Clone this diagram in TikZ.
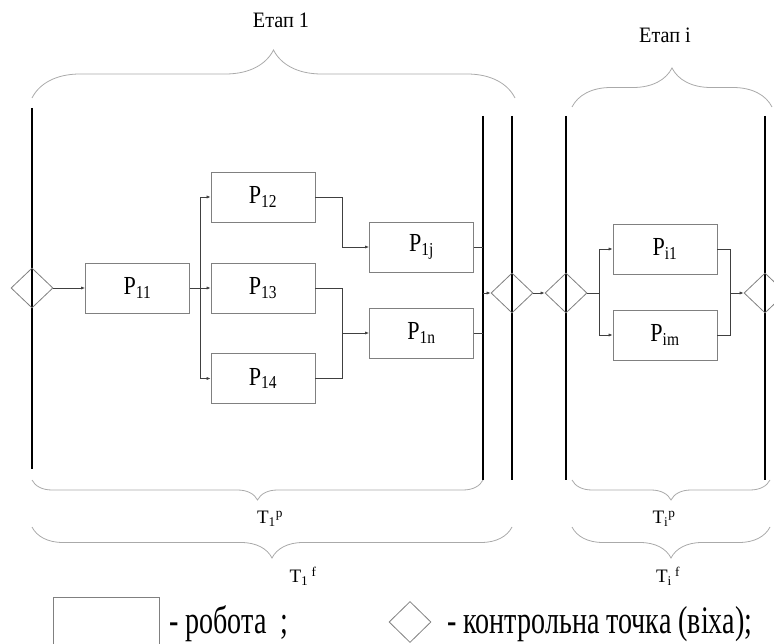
\documentclass[tikz,border=0pt]{standalone}
\usepackage{fontspec}
\setmainfont{Liberation Serif}
\newfontfamily\boxfont[FakeStretch=0.85]{Liberation Serif}
\newfontfamily\stagefont[FakeStretch=0.92]{Liberation Serif}
\newfontfamily\legendfont[FakeStretch=0.72]{Liberation Serif}
\usetikzlibrary{arrows.meta,positioning,shapes.geometric,decorations.pathreplacing}
\definecolor{boxgray}{RGB}{128,128,128}
\definecolor{linkgray}{RGB}{64,64,64}
\definecolor{bracegray}{RGB}{170,170,170}
\tikzset{
  job/.style={draw=boxgray,line width=0.8pt,minimum width=104pt,minimum height=50pt,inner sep=0pt,font=\boxfont\fontsize{26}{30}\selectfont},
  mile/.style={diamond,draw=boxgray,line width=0.8pt,minimum width=42pt,minimum height=40pt,inner sep=0pt},
  flow/.style={-{Latex[length=4pt,width=3.2pt]},draw=linkgray,line width=0.7pt},
  link/.style={draw=linkgray,line width=0.7pt},
  rail/.style={draw=black,line width=1.8pt},
  brc/.style={decorate,decoration={brace,amplitude=#1},draw=bracegray,line width=0.8pt},
  lbl/.style={inner sep=0pt,font=\fontsize{19}{23}\selectfont}
}
\begin{document}
\begin{tikzpicture}[x=1pt,y=-1pt]
\useasboundingbox (0,0) rectangle (774,644);
\clip (0,0) rectangle (774,644);
% milestone rails
\draw[rail] (32,108) -- (32,469);
\foreach \rx in {483,512,566,765}
  \draw[rail] (\rx,116) -- (\rx,480);
% stage 1
\node[mile] (d1) at (32,288) {};
\node[job] (p11) at (137.5,288) {P\textsubscript{11}};
\node[job] (p12) at (263,197) {P\textsubscript{12}};
\node[job] (p13) at (263,288) {P\textsubscript{13}};
\node[job] (p14) at (263,378.5) {P\textsubscript{14}};
\node[job] (p1j) at (421.5,247) {P\textsubscript{1j}};
\node[job] (p1n) at (421.5,333) {P\textsubscript{1n}};
\node[mile] (d2) at (512,293) {};
\coordinate (fork1) at (200,288);
\coordinate (join13) at (342,333);
\coordinate (join1) at (483,293);
\draw[flow] (d1.east) -- (p11.west);
\draw[link] (p11.east) -- (fork1);
\draw[flow] (fork1) |- (p12.west);
\draw[flow] (fork1) -- (p13.west);
\draw[flow] (fork1) |- (p14.west);
\draw[flow] (p12.east) -- ++(27,0) |- (p1j.west);
\draw[link] (p13.east) -- ++(27,0) |- (p14.east);
\draw[flow] (join13) -- (p1n.west);
\draw[link] (p1j.east) -- (p1j.east -| join1);
\draw[link] (p1n.east) -- (p1n.east -| join1);
\draw[flow] (join1) -- (d2.west);
% stage i
\node[mile] (d3) at (566,293) {};
\node[job] (pi1) at (665,249) {P\textsubscript{i1}};
\node[job] (pim) at (665,335) {P\textsubscript{im}};
\node[mile] (d4) at (765,293) {};
\coordinate (fork2) at (599,293);
\coordinate (join2) at (730,293);
\draw[flow] (d2.east) -- (d3.west);
\draw[link] (d3.east) -- (fork2);
\draw[flow] (fork2) |- (pi1.west);
\draw[flow] (fork2) |- (pim.west);
\draw[link] (pi1.east) -| (join2);
\draw[link] (pim.east) -| (join2);
\draw[flow] (join2) -- (d4.west);
% braces
\draw[brc=48pt] (32,98) -- (515,98);
\draw[brc=39pt] (572,107) -- (772,107);
\draw[brc=20pt,decoration={mirror}] (32,480) -- (483,480);
\draw[brc=31pt,decoration={mirror}] (32,527) -- (512,527);
\draw[brc=20pt,decoration={mirror}] (572,480) -- (770,480);
\draw[brc=31pt,decoration={mirror}] (572,527) -- (770,527);
\node[lbl,font=\stagefont\fontsize{22}{26}\selectfont] (st1) at (281,20) {Етап 1};
\node[lbl,font=\stagefont\fontsize{22}{26}\selectfont] (sti) at (665,35) {Етап і};
\node[lbl] (t1p) at (270,519) {T\textsubscript{1}\textsuperscript{p}};
\node[lbl] (t1f) at (303,576) {T\textsubscript{1}\,\textsuperscript{f}};
\node[lbl] (tip) at (664,519) {T\textsubscript{i}\textsuperscript{p}};
\node[lbl] (tif) at (668,576) {T\textsubscript{i}\,\textsuperscript{f}};
% legend
\node[job,minimum width=106pt,minimum height=54pt,anchor=north west] (legjob) at (53,597) {};
\node[lbl,anchor=west,font=\legendfont\fontsize{39}{44}\selectfont] (legjobtxt) at (169,624) {- робота\ \ ;};
\node[mile,minimum height=41pt] (legmile) at (410,622) {};
\node[lbl,anchor=west,font=\legendfont\fontsize{39}{44}\selectfont] (legmiletxt) at (447,624) {- контрольна точка (віха);};
\end{tikzpicture}
\end{document}
